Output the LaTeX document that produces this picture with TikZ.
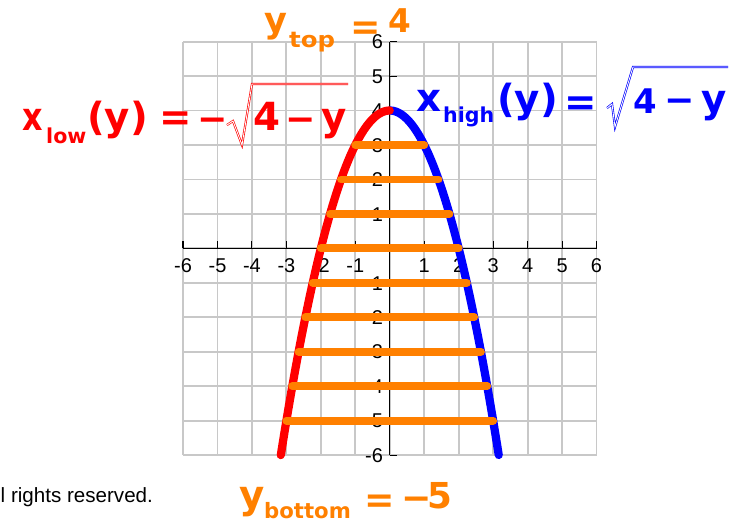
\documentclass[tikz,border=0pt]{standalone}
\usepackage{fontspec}
\setmainfont{Liberation Sans}
\newfontfamily\dv{DejaVu Sans}
\definecolor{orng}{RGB}{255,128,0}
\definecolor{gridc}{RGB}{200,200,200}
\newcommand\fsz[1]{\fontsize{#1}{#1}\selectfont}
\tikzset{
  gridline/.style={draw=gridc, line width=1.5pt},
  axisline/.style={draw=black, line width=0.9pt},
  curve/.style={line width=6.8pt, line cap=round},
  bar/.style={draw=orng, line width=6.5pt, line cap=round},
  ticklab/.style={font=\fsz{16.5}, inner sep=0pt},
  eq/.style={inner sep=0pt, anchor=base west, font=\dv\bfseries},
  rad/.style={line width=0.55pt, double=white, double distance=0.7pt, line join=miter},
  pxs/.style={x=0.029028cm, y=-0.029028cm, shift={(-11.3121cm,7.2075cm)}}
}
\begin{document}
\begin{tikzpicture}
\begin{scope}[pxs]
  \useasboundingbox (0,0) rectangle (734,522);
\end{scope}
% grid
\foreach \i in {-6,...,6} {
  \draw[gridline] (\i,-6) -- (\i,6);
  \draw[gridline] (-6,\i) -- (6,\i);
}
% axes
\draw[axisline] (-6,0) -- (6,0);
\draw[axisline] (0,-6) -- (0,6);
\foreach \i in {-6,...,6} {
  \draw[axisline] (\i,0) -- (\i,0.2);
  \draw[axisline] (0,\i) -- (0.2,\i);
}
% tick labels
\foreach \i in {-6,-5,-4,-3,-2,-1,1,2,3,4,5,6} {
  \node[ticklab, anchor=base] (xl\i) at (\i,-0.7) {\i};
  \node[ticklab, anchor=base east] (yl\i) at (-0.19,\i-0.21) {\i};
}
% curves
\draw[curve, draw=blue] plot[domain=0:3.1623, samples=80, smooth] (\x,{4-\x*\x});
\draw[curve, draw=red] plot[domain=-3.1623:0, samples=80, smooth] (\x,{4-\x*\x});
% horizontal strips
\foreach \yy in {3,2,1,0,-1,-2,-3,-4,-5}
  \draw[bar] ({-sqrt(4-\yy)},\yy) -- ({sqrt(4-\yy)},\yy);
% labels in pixel coordinates
\begin{scope}[pxs]
  % red
  \begin{scope}[red]
    \node[eq, text=red] (rx) at (22,130) {\fsz{32}\scalebox{0.82}[1]{x}};
    \node[eq, text=red] (rlow) at (46,143) {\fsz{17}low};
    \node[eq, text=red] (ry) at (87,130) {\fsz{32}(y)};
    \node[eq, text=red] (req) at (159.5,130.5) {\fsz{32}=};
    \node[eq, text=red] (rm1) at (197,131) {\fsz{30}−};
    \draw[rad] (227,125) -- (233,121) -- (242,145) -- (252,84) -- (348,84);
    \node[eq, text=red] (r4) at (253,130) {\fsz{32}4};
    \node[eq, text=red] (rm2) at (285,131) {\fsz{30}−};
    \node[eq, text=red] (ryy) at (321,130) {\fsz{32}y};
  \end{scope}
  % blue
  \begin{scope}[blue]
    \node[eq, text=blue] (bx) at (416,111) {\fsz{32}x};
    \node[eq, text=blue] (bhigh) at (443,122) {\fsz{17}high};
    \node[eq, text=blue] (by) at (497,112) {\fsz{32}(y)};
    \node[eq, text=blue] (beq) at (564.5,115) {\fsz{32}=};
    \draw[rad] (607,108) -- (612,104) -- (615,127) -- (633,67) -- (728,67);
    \node[eq, text=blue] (b4) at (633,113) {\fsz{28}4};
    \node[eq, text=blue] (bm) at (664,112) {\fsz{30}−};
    \node[eq, text=blue] (byy) at (701,112) {\fsz{32}y};
  \end{scope}
  % orange top
  \node[eq, text=orng] (ty) at (264,32) {\fsz{29}y};
  \node[eq, text=orng] (ttop) at (289,47.5) {\fsz{18}\scalebox{1.12}[1]{top}};
  \node[eq, text=orng] (teq) at (350,39) {\fsz{30}=};
  \node[eq, text=orng] (t4) at (388.5,32) {\fsz{27}4};
  % orange bottom
  \node[eq, text=orng] (by2) at (239,508) {\fsz{32}y};
  \node[eq, text=orng] (bbot) at (264,518.5) {\fsz{17.5}bottom};
  \node[eq, text=orng] (beq2) at (364.7,512.6) {\fsz{30}=};
  \node[eq, text=orng] (bm2) at (401.7,510) {\fsz{30}−};
  \node[eq, text=orng] (b5) at (427,508) {\fsz{29.5}5};
  % copyright fragment
  \node[inner sep=0pt, anchor=base west, font=\fsz{17}] (copy) at (0.5,502) {l rights reserved.};
\end{scope}
\end{tikzpicture}
\end{document}
